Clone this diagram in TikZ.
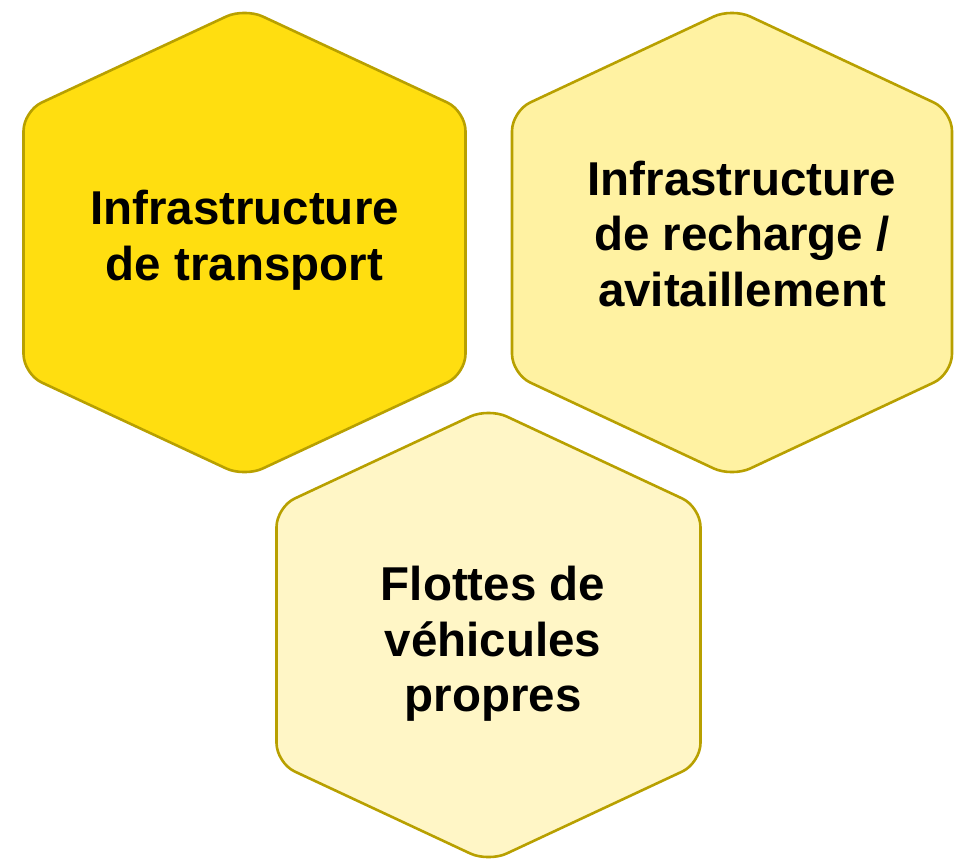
\documentclass[tikz,border=0pt]{standalone}
\usepackage{fontspec}
\setmainfont{Liberation Sans}
\definecolor{jauneFort}{RGB}{255,222,16}
\definecolor{jauneMoyen}{RGB}{255,242,162}
\definecolor{jaunePale}{RGB}{255,246,198}
\definecolor{bordOlive}{RGB}{184,160,0}
\tikzset{
	hexa/.style={line width=2.6pt, draw=bordOlive, rounded corners=20pt},
	titre/.style={align=center, inner sep=0pt, font=\fontsize{47.5}{55.5}\selectfont\bfseries}
}
\begin{document}
\begin{tikzpicture}[x=1pt, y=-1pt]
	\useasboundingbox (0,0) rectangle (959,863);
	% Hexagone en haut a gauche
	\filldraw[hexa, fill=jauneFort] (244.5,8) -- (465.5,111) -- (465.5,374) --
	(244.5,477) -- (23.5,374) -- (23.5,111) -- cycle;
	\node[titre] (transport) at (244.5,240) {Infrastructure\\de transport};
	% Hexagone en haut a droite
	\filldraw[hexa, fill=jauneMoyen] (732,8) -- (952,111) -- (952,374) --
	(732,477) -- (512,374) -- (512,111) -- cycle;
	\node[titre] (recharge) at (742,234) {Infrastructure\\de recharge /\\avitaillement};
	% Hexagone en bas
	\filldraw[hexa, fill=jaunePale] (488.5,408) -- (700.5,507) -- (700.5,763) --
	(488.5,862) -- (276.5,763) -- (276.5,507) -- cycle;
	\node[titre] (flottes) at (493,644) {Flottes de\\véhicules\\propres};
\end{tikzpicture}
\end{document}
